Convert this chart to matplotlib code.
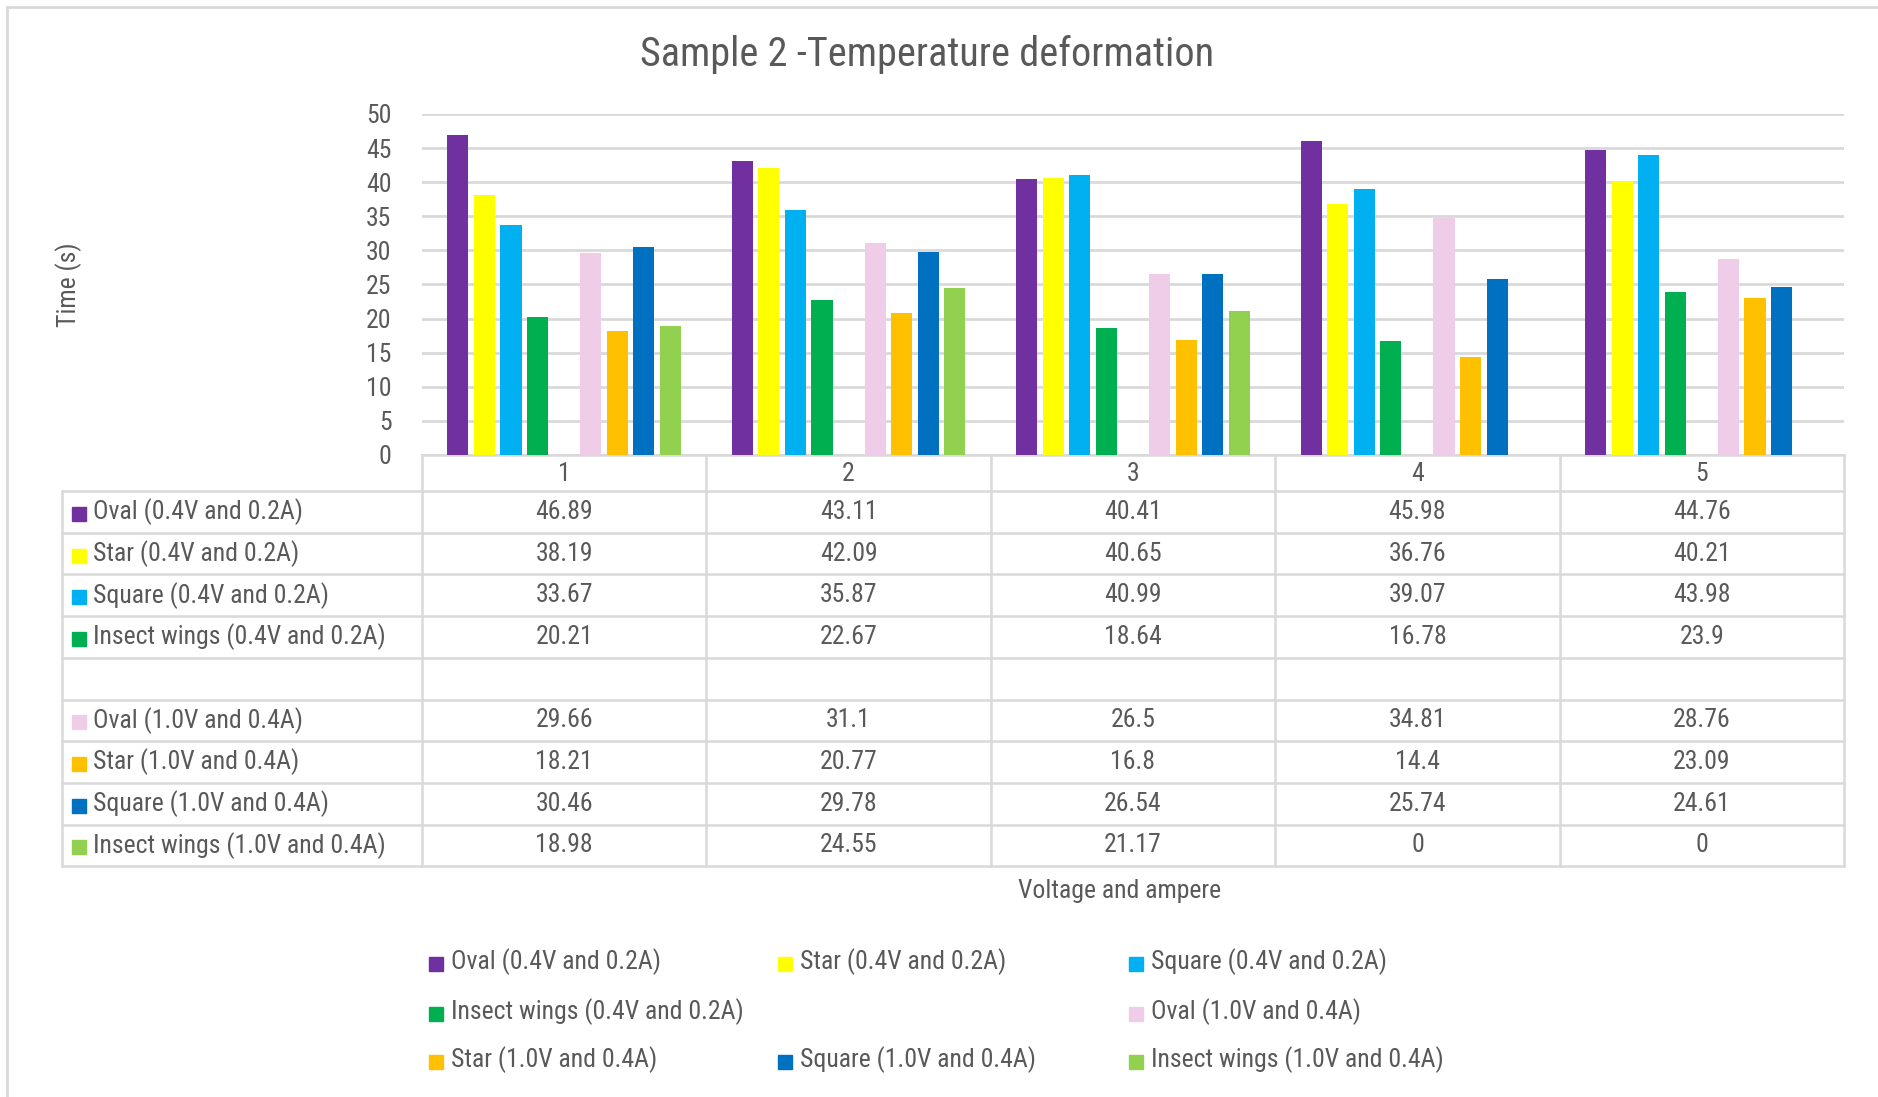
import matplotlib
matplotlib.use("Agg")
import matplotlib.pyplot as plt
from matplotlib.patches import Rectangle

W, H = 1878, 1097

plt.rcParams['font.family'] = ['Roboto Condensed', 'DejaVu Sans']

title = "Sample 2 -Temperature deformation"
x_label = "Voltage and ampere"
y_label = "Time (s)"
categories = ["1", "2", "3", "4", "5"]

series_names = [
    "Oval (0.4V and 0.2A)",
    "Star (0.4V and 0.2A)",
    "Square (0.4V and 0.2A)",
    "Insect wings (0.4V and 0.2A)",
    "",
    "Oval (1.0V and 0.4A)",
    "Star (1.0V and 0.4A)",
    "Square (1.0V and 0.4A)",
    "Insect wings (1.0V and 0.4A)",
]
oval_04 = [46.89, 43.11, 40.41, 45.98, 44.76]
star_04 = [38.19, 42.09, 40.65, 36.76, 40.21]
square_04 = [33.67, 35.87, 40.99, 39.07, 43.98]
insect_04 = [20.21, 22.67, 18.64, 16.78, 23.9]
blank = [None, None, None, None, None]
oval_10 = [29.66, 31.1, 26.5, 34.81, 28.76]
star_10 = [18.21, 20.77, 16.8, 14.4, 23.09]
square_10 = [30.46, 29.78, 26.54, 25.74, 24.61]
insect_10 = [18.98, 24.55, 21.17, 0, 0]
series_values = [oval_04, star_04, square_04, insect_04, blank,
                 oval_10, star_10, square_10, insect_10]
colors = ["#7030A0", "#FFFF00", "#00B0F0", "#00B050", None,
          "#EFCDE9", "#FFC000", "#0070C0", "#92D050"]
y_ticks = [0, 5, 10, 15, 20, 25, 30, 35, 40, 45, 50]

text_color = "#595959"
line_color = "#D9D9D9"
fs = 18.5

fig = plt.figure(figsize=(W / 100, H / 100), dpi=100)

# overlay in pixel units for table, legend and frame
lay = fig.add_axes([0, 0, 1, 1])
lay.set_xlim(0, W)
lay.set_ylim(H, 0)
lay.axis("off")

# plot area
px_left, px_right, px_top, px_bottom = 422, 1844, 114, 455
ax = fig.add_axes([px_left / W, 1 - px_bottom / H,
                   (px_right - px_left) / W, (px_bottom - px_top) / H])
ax.set_xlim(0.5, len(categories) + 0.5)
ax.set_ylim(0, 50)
ax.set_yticks(y_ticks)
ax.set_xticks([])
ax.tick_params(axis="y", length=0, pad=22, labelsize=fs, labelcolor=text_color)
for s in ax.spines.values():
    s.set_visible(False)
ax.grid(axis="y", color=line_color, linewidth=2)
ax.set_axisbelow(True)
ax.patch.set_alpha(0)

slot = 0.0935
bar_w = 0.074
xs = list(range(1, len(categories) + 1))
for j, (vals, c) in enumerate(zip(series_values, colors)):
    if c is None:
        continue
    off = (j - 4) * slot
    ax.bar([x + off for x in xs], vals, width=bar_w, color=c, zorder=3)

fig.text(927 / W, 1 - 54 / H, title, ha="center", va="center",
         fontsize=29, color=text_color)
fig.text(69 / W, 1 - 285 / H, y_label, ha="center", va="center",
         rotation=90, fontsize=fs, color=text_color)

# data table below the plot area
col_edges = [ax.transData.transform((x - 0.5, 0))[0] for x in xs] + \
            [ax.transData.transform((xs[-1] + 0.5, 0))[0]]
table_left = 62
head_top = px_bottom
head_bot = 491
row_h = 41.7
n_rows = len(series_names)
table_bot = head_bot + n_rows * row_h
lw = 1.8
lay.plot([col_edges[0], col_edges[-1]], [head_top, head_top], color=line_color, lw=lw)
for k in range(n_rows + 1):
    y = head_bot + k * row_h
    lay.plot([table_left, col_edges[-1]], [y, y], color=line_color, lw=lw)
for xe in col_edges:
    lay.plot([xe, xe], [head_top, table_bot], color=line_color, lw=lw)
lay.plot([table_left, table_left], [head_bot, table_bot], color=line_color, lw=lw)

for i, cat in enumerate(categories):
    cx = (col_edges[i] + col_edges[i + 1]) / 2
    lay.text(cx, (head_top + head_bot) / 2 + 1, cat, ha="center", va="center",
             fontsize=fs, color=text_color)

sq = 14
for k, (name, vals, c) in enumerate(zip(series_names, series_values, colors)):
    cy = head_bot + (k + 0.5) * row_h
    if c is None:
        continue
    lay.add_patch(Rectangle((72, cy - sq / 2 + 2), sq, sq, color=c))
    lay.text(93, cy, name, ha="left", va="center", fontsize=fs, color=text_color)
    for i, v in enumerate(vals):
        cx = (col_edges[i] + col_edges[i + 1]) / 2
        lay.text(cx, cy, f"{v:g}", ha="center", va="center",
                 fontsize=fs, color=text_color)

fig.text(1120 / W, 1 - 891 / H, x_label, ha="center", va="center",
         fontsize=fs, color=text_color)

# legend, three entries per row
leg_x = [429, 778, 1129]
leg_y = [962, 1012, 1060]
for j, (name, c) in enumerate(zip(series_names, colors)):
    if c is None:
        continue
    r, q = divmod(j, 3)
    lay.add_patch(Rectangle((leg_x[q], leg_y[r] - sq / 2 + 2), sq, sq, color=c))
    lay.text(leg_x[q] + 22, leg_y[r], name, ha="left", va="center",
             fontsize=fs, color=text_color)

# chart frame
lay.plot([7, 7], [7, H], color=line_color, lw=2)
lay.plot([7, W], [7, 7], color=line_color, lw=2)

fig.savefig("out.png", dpi=100)
